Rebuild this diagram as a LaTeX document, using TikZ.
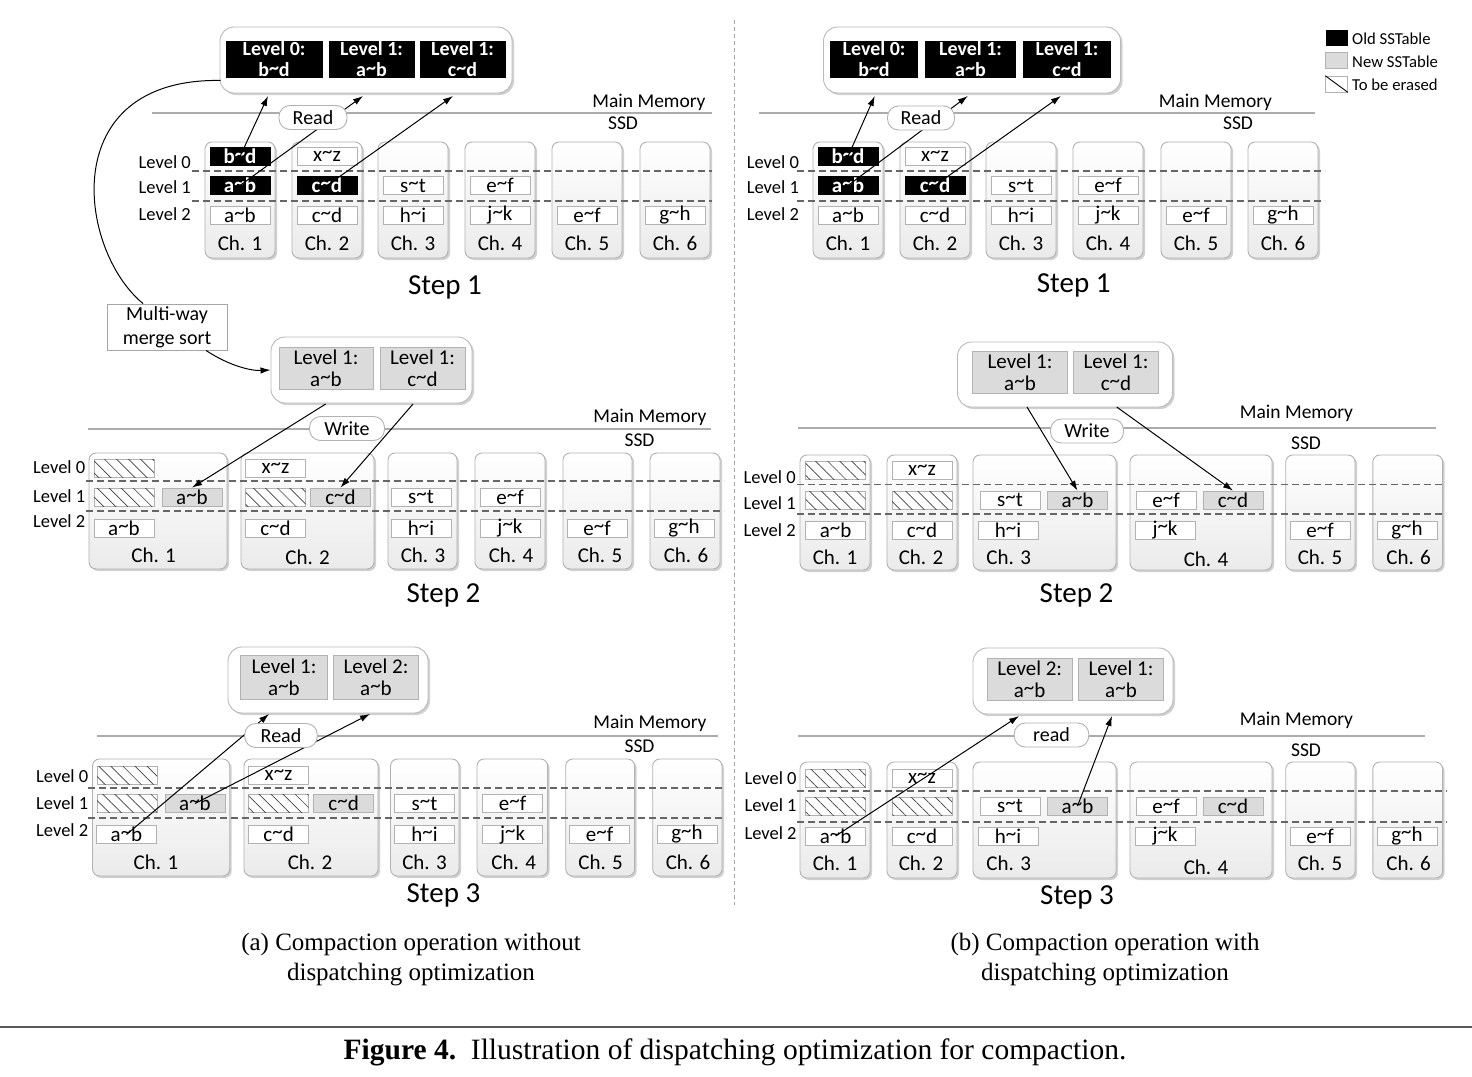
\documentclass[tikz,border=0pt]{standalone}
\usepackage{fontspec}
\setmainfont{Carlito}
\newfontfamily\capfont{Liberation Serif}
\usetikzlibrary{arrows.meta,shadows,patterns.meta,calc}
\newcommand\fz[1]{\fontsize{#1}{#1}\selectfont}
\newcommand\tl{\raisebox{0.14em}{\textasciitilde}}
\newcommand\tb[5][]{\node[sst,#1] (#2) at (#3,#4) {#5};}
\newcommand\chb[5]{\node[chan,minimum width={#3-#2},minimum height={#5-#4}] (#1) at ({(#2+#3)/2},{(#4+#5)/2}) {};}
\tikzset{
 shad/.style={drop shadow={shadow xshift=2pt,shadow yshift=-2pt,opacity=0.3,fill=black!60}},
 chan/.style={draw=gray!60,line width=0.9pt,rounded corners=7pt,top color=white,bottom color=gray!16,inner sep=0pt,shad},
 memb/.style={draw=gray!55,line width=0.9pt,rounded corners=14pt,fill=white,inner sep=0pt,shad},
 sst/.style={draw=gray!60,line width=0.8pt,fill=white,minimum width=60pt,minimum height=18pt,inner sep=0pt,font=\fz{21}},
 oldt/.style={fill=black,draw=black,text=white,font=\fz{21}\bfseries},
 newt/.style={fill=gray!28},
 erat/.style={postaction={pattern={Lines[angle=-45,distance=8.5pt,line width=0.7pt]},pattern color=black!75}},
 mold/.style={fill=black,text=white,inner sep=0pt,align=center,font=\fontsize{20}{21}\selectfont\bfseries},
 mnew/.style={fill=gray!28,draw=gray!60,line width=0.8pt,inner sep=0pt,align=center,font=\fontsize{21}{22}\selectfont},
 lbl/.style={inner sep=0pt,font=\fz{18.5}},
 mml/.style={inner sep=0pt,font=\fz{19.5}},
 chl/.style={inner sep=0pt,font=\fz{21}},
 stp/.style={inner sep=0pt,font=\fz{29}},
 rw/.style={draw=gray!60,line width=0.9pt,fill=white,rounded corners=11pt,minimum height=24pt,inner sep=0pt,font=\fz{20}},
 sepl/.style={draw=gray!65,line width=1.1pt},
 dsh/.style={draw=black!60,line width=1.1pt,dash pattern=on 7pt off 4pt},
 arr/.style={-{Latex[length=10pt,width=6.5pt]},line width=1pt},
 conn/.style={line width=1pt},
 capt/.style={inner sep=0pt,font=\capfont\fz{25}},
}
\begin{document}
\begin{tikzpicture}[x=1pt,y=-1pt]
\fill[white] (0,0) rectangle (1472,1076);
\useasboundingbox (0,0) rectangle (1472,1076);

% divider
\draw[gray!70,line width=0.8pt,dash pattern=on 4pt off 3pt] (734,20) -- (734,905);

%%%%%%%%%%%%%%%% (a) Step 1
\chb{a1c1}{205}{275}{142}{258}
\chb{a1c2}{292}{362}{142}{258}
\chb{a1c3}{378}{448}{142}{258}
\chb{a1c4}{465}{535}{142}{258}
\chb{a1c5}{552}{622}{142}{258}
\chb{a1c6}{640}{710}{142}{258}
\draw[dsh] (192,171) -- (712,171);
\draw[dsh] (192,201) -- (712,201);
\node[lbl,anchor=east] (a1v0) at (191,162) {Level 0};
\node[lbl,anchor=east] (a1v1) at (191,187) {Level 1};
\node[lbl,anchor=east] (a1v2) at (191,214) {Level 2};
\tb[oldt]{a1t10}{240}{156.5}{b\tl d}
\tb[oldt]{a1t11}{240}{185.5}{a\tl b}
\tb{a1t12}{240}{215.5}{a\tl b}
\tb{a1t20}{327}{156.5}{x\tl z}
\tb[oldt]{a1t21}{327}{185.5}{c\tl d}
\tb{a1t22}{327}{215.5}{c\tl d}
\tb{a1t31}{413}{185.5}{s\tl t}
\tb{a1t32}{413}{215.5}{h\tl i}
\tb{a1t41}{500}{185.5}{e\tl f}
\tb{a1t42}{500}{215.5}{j\tl k}
\tb{a1t52}{587}{215.5}{e\tl f}
\tb{a1t62}{675}{215.5}{g\tl h}
\node[chl] (a1l1) at (240,243) {Ch. 1};
\node[chl] (a1l2) at (327,243) {Ch. 2};
\node[chl] (a1l3) at (413,243) {Ch. 3};
\node[chl] (a1l4) at (500,243) {Ch. 4};
\node[chl] (a1l5) at (587,243) {Ch. 5};
\node[chl] (a1l6) at (675,243) {Ch. 6};
\draw[sepl] (152,113) -- (712,113);
\node[mml] (a1mm) at (649,102) {Main Memory};
\node[mml] (a1ssd) at (623,123) {SSD};
\node[memb,minimum width=292,minimum height=66] (a1mem) at (366,60) {};
\node[mold,minimum width=97,minimum height=37] (a1m1) at (274,59.5) {Level 0:\\b\tl d};
\node[mold,minimum width=86,minimum height=37] (a1m2) at (371.5,59.5) {Level 1:\\a\tl b};
\node[mold,minimum width=86,minimum height=37] (a1m3) at (462.5,59.5) {Level 1:\\c\tl d};
\coordinate (a1p1) at (268,96);
\coordinate (a1p2) at (363,96);
\coordinate (a1p3) at (453,96);
\draw[arr] (a1t10.center) -- (a1p1);
\draw[arr] (a1t11.center) -- (a1p2);
\draw[arr] (a1t21.center) -- (a1p3);
\node[rw,minimum width=68] (a1rd) at (313,117.5) {Read};
\node[stp] (a1st) at (445,287) {Step 1};

% multi-way merge sort
\node[draw=gray!70,line width=0.9pt,fill=white,minimum width=120,minimum height=46,inner sep=0pt,align=center,font=\fontsize{20}{24}\selectfont] (mw) at (167,327) {Multi-way\\merge sort};
\draw[conn] ($(a1mem.south west)+(1,-13)$) .. controls (55,78) and (78,250) .. ($(mw.north)+(-24,0)$);

%%%%%%%%%%%%%%%% (a) Step 2
\chb{a2c1}{89}{227}{453}{569}
\chb{a2c2}{241}{374}{453}{569}
\chb{a2c3}{388}{457}{453}{569}
\chb{a2c4}{475}{545}{453}{569}
\chb{a2c5}{563}{632}{453}{569}
\chb{a2c6}{650}{720}{453}{569}
\draw[dsh] (86,481) -- (724,481);
\draw[dsh] (86,511) -- (724,511);
\node[lbl,anchor=west] (a2v0) at (33,467) {Level 0};
\node[lbl,anchor=west] (a2v1) at (33,496) {Level 1};
\node[lbl,anchor=west] (a2v2) at (33,521) {Level 2};
\tb[erat]{a2t10}{124}{468}{}
\tb[erat]{a2t11}{124}{497}{}
\tb[newt]{a2n1}{192}{497}{a\tl b}
\tb{a2t12}{124}{528}{a\tl b}
\tb{a2t20}{275.5}{468}{x\tl z}
\tb[erat]{a2t21}{275.5}{497}{}
\tb[newt]{a2n2}{340.5}{497}{c\tl d}
\tb{a2t22}{275.5}{528}{c\tl d}
\tb{a2t31}{421}{497}{s\tl t}
\tb{a2t32}{421}{528}{h\tl i}
\tb{a2t41}{510}{497}{e\tl f}
\tb{a2t42}{510}{528}{j\tl k}
\tb{a2t52}{597}{528}{e\tl f}
\tb{a2t62}{684}{528}{g\tl h}
\node[chl] (a2l1) at (153.6,555) {Ch. 1};
\node[chl] (a2l2) at (307.6,557) {Ch. 2};
\node[chl] (a2l3) at (423,555) {Ch. 3};
\node[chl] (a2l4) at (511,555) {Ch. 4};
\node[chl] (a2l5) at (600,555) {Ch. 5};
\node[chl] (a2l6) at (686,555) {Ch. 6};
\draw[sepl] (88,429) -- (711,429);
\node[mml] (a2mm) at (650,417) {Main Memory};
\node[mml] (a2ssd) at (639.5,440) {SSD};
\node[memb,minimum width=201,minimum height=66] (a2mem) at (371.5,370) {};
\node[mnew,minimum width=94,minimum height=42] (a2m1) at (326,368) {Level 1:\\a\tl b};
\node[mnew,minimum width=85,minimum height=42] (a2m2) at (422.5,368) {Level 1:\\c\tl d};
\coordinate (a2q1) at (325.7,404);
\coordinate (a2q2) at (413,404);
\draw[arr] (a2q1) -- (a2n1.north);
\draw[arr] (a2q2) -- (a2n2.north);
\node[rw,minimum width=75] (a2wr) at (347,428.5) {Write};
\node[stp] (a2st) at (443.5,595) {Step 2};
\draw[arr] ($(mw.south)+(39,0)$) .. controls (228,365) and (250,371) .. (a2mem.west);

%%%%%%%%%%%%%%%% (a) Step 3
\chb{a3c1}{92.5}{229.7}{759}{876}
\chb{a3c2}{244}{378}{759}{876}
\chb{a3c3}{390.5}{459}{759}{876}
\chb{a3c4}{477}{547.6}{759}{876}
\chb{a3c5}{565.7}{634.6}{759}{876}
\chb{a3c6}{652.7}{722}{759}{876}
\draw[dsh] (88,788) -- (724,788);
\draw[dsh] (88,818) -- (724,818);
\node[lbl,anchor=west] (a3v0) at (36,776) {Level 0};
\node[lbl,anchor=west] (a3v1) at (36,803) {Level 1};
\node[lbl,anchor=west] (a3v2) at (36,830) {Level 2};
\tb[erat]{a3t10}{127}{775}{}
\tb[erat]{a3t11}{127}{803.5}{}
\tb[newt]{a3n1}{195}{803.5}{a\tl b}
\tb{a3t12}{126.5}{834.5}{a\tl b}
\tb{a3t20}{278.6}{775}{x\tl z}
\tb[erat]{a3t21}{278.6}{803.5}{}
\tb[newt]{a3n2}{343.6}{803.5}{c\tl d}
\tb{a3t22}{278.6}{834.5}{c\tl d}
\tb{a3t31}{424.5}{803.5}{s\tl t}
\tb{a3t32}{424.5}{834.5}{h\tl i}
\tb{a3t41}{512.6}{803.5}{e\tl f}
\tb{a3t42}{512.6}{834.5}{j\tl k}
\tb{a3t52}{599.6}{834.5}{e\tl f}
\tb{a3t62}{687}{834.5}{g\tl h}
\node[chl] (a3l1) at (156,862) {Ch. 1};
\node[chl] (a3l2) at (310,862) {Ch. 2};
\node[chl] (a3l3) at (424.5,862) {Ch. 3};
\node[chl] (a3l4) at (513.7,862) {Ch. 4};
\node[chl] (a3l5) at (600.6,862) {Ch. 5};
\node[chl] (a3l6) at (688,862) {Ch. 6};
\draw[sepl] (97,736) -- (718,736);
\node[mml] (a3mm) at (650,723) {Main Memory};
\node[mml] (a3ssd) at (639.5,746) {SSD};
\node[memb,minimum width=200,minimum height=66] (a3mem) at (328,680) {};
\node[mnew,minimum width=86.5,minimum height=44] (a3m1) at (284,677) {Level 1:\\a\tl b};
\node[mnew,minimum width=84.7,minimum height=44] (a3m2) at (376,677) {Level 2:\\a\tl b};
\coordinate (a3p1) at (269,714);
\coordinate (a3p2) at (370,714);
\draw[arr] (a3t12.center) -- (a3p1);
\draw[arr] (a3n1.center) -- (a3p2);
\node[rw,minimum width=72.5] (a3rd) at (281,735.5) {Read};
\node[stp] (a3st) at (443.5,895) {Step 3};

%%%%%%%%%%%%%%%% (b) Step 1
\chb{b1c1}{813}{883}{142}{258}
\chb{b1c2}{900}{970}{142}{258}
\chb{b1c3}{986}{1056}{142}{258}
\chb{b1c4}{1073}{1143}{142}{258}
\chb{b1c5}{1161}{1231}{142}{258}
\chb{b1c6}{1248}{1318}{142}{258}
\draw[dsh] (797,171) -- (1325,171);
\draw[dsh] (797,201) -- (1325,201);
\node[lbl,anchor=west] (b1v0) at (746.6,162) {Level 0};
\node[lbl,anchor=west] (b1v1) at (746.6,187) {Level 1};
\node[lbl,anchor=west] (b1v2) at (746.6,214) {Level 2};
\tb[oldt]{b1t10}{848}{156.5}{b\tl d}
\tb[oldt]{b1t11}{848}{185.5}{a\tl b}
\tb{b1t12}{848}{215.5}{a\tl b}
\tb{b1t20}{935}{156.5}{x\tl z}
\tb[oldt]{b1t21}{935}{185.5}{c\tl d}
\tb{b1t22}{935}{215.5}{c\tl d}
\tb{b1t31}{1021}{185.5}{s\tl t}
\tb{b1t32}{1021}{215.5}{h\tl i}
\tb{b1t41}{1108}{185.5}{e\tl f}
\tb{b1t42}{1108}{215.5}{j\tl k}
\tb{b1t52}{1196}{215.5}{e\tl f}
\tb{b1t62}{1283}{215.5}{g\tl h}
\node[chl] (b1l1) at (848,243) {Ch. 1};
\node[chl] (b1l2) at (935,243) {Ch. 2};
\node[chl] (b1l3) at (1021,243) {Ch. 3};
\node[chl] (b1l4) at (1108,243) {Ch. 4};
\node[chl] (b1l5) at (1196,243) {Ch. 5};
\node[chl] (b1l6) at (1283,243) {Ch. 6};
\draw[sepl] (759,113) -- (1315,113);
\node[mml] (b1mm) at (1215.5,102) {Main Memory};
\node[mml] (b1ssd) at (1238,123) {SSD};
\node[memb,minimum width=297,minimum height=66] (b1mem) at (972,60) {};
\node[mold,minimum width=88,minimum height=37] (b1m1) at (874,59.5) {Level 0:\\b\tl d};
\node[mold,minimum width=91,minimum height=37] (b1m2) at (970.5,59.5) {Level 1:\\a\tl b};
\node[mold,minimum width=88,minimum height=37] (b1m3) at (1067,59.5) {Level 1:\\c\tl d};
\coordinate (b1p1) at (874.7,96);
\coordinate (b1p2) at (967.8,96);
\coordinate (b1p3) at (1060.9,96);
\draw[arr] (b1t10.center) -- (b1p1);
\draw[arr] (b1t11.center) -- (b1p2);
\draw[arr] (b1t21.center) -- (b1p3);
\node[rw,minimum width=67] (b1rd) at (921,118) {Read};
\node[stp] (b1st) at (1073.7,285) {Step 1};

% legend
\node[fill=black,minimum width=22,minimum height=16,inner sep=0pt] (lgold) at (1336.5,38.3) {};
\node[fill=gray!28,draw=gray!60,line width=0.7pt,minimum width=22,minimum height=16,inner sep=0pt] (lgnew) at (1336.5,60.5) {};
\node[fill=white,draw=gray!60,line width=0.7pt,minimum width=22,minimum height=16,inner sep=0pt] (lger) at (1336.5,84) {};
\draw[line width=0.9pt] (lger.north west) -- (lger.south east);
\node[inner sep=0pt,anchor=west,font=\fz{16.7}] (lgt1) at (1352,39) {Old SSTable};
\node[inner sep=0pt,anchor=west,font=\fz{16.7}] (lgt2) at (1352,62) {New SSTable};
\node[inner sep=0pt,anchor=west,font=\fz{16.7}] (lgt3) at (1352,85) {To be erased};

%%%%%%%%%%%%%%%% (b) Step 2
\chb{b2c1}{800}{870}{455}{570}
\chb{b2c2}{887}{957}{455}{570}
\chb{b2c3}{973}{1116}{455}{570}
\chb{b2c4}{1130}{1272}{455}{570}
\chb{b2c5}{1285.7}{1355}{455}{570}
\chb{b2c6}{1372.8}{1442.6}{455}{570}
\draw[dsh] (797,484.5) -- (1445,484.5);
\draw[dsh] (797,514) -- (1445,514);
\node[lbl,anchor=west] (b2v0) at (743.4,477) {Level 0};
\node[lbl,anchor=west] (b2v1) at (743.4,503) {Level 1};
\node[lbl,anchor=west] (b2v2) at (743.4,530) {Level 2};
\tb[erat]{b2t10}{835.6}{470}{}
\tb[erat]{b2t11}{835.6}{500}{}
\tb{b2t12}{835.6}{530}{a\tl b}
\tb{b2t20}{922}{470}{x\tl z}
\tb[erat]{b2t21}{922}{500}{}
\tb{b2t22}{922}{530}{c\tl d}
\tb{b2t31}{1010}{500}{s\tl t}
\tb[newt]{b2n1}{1077.5}{500}{a\tl b}
\tb{b2t32}{1008}{530}{h\tl i}
\tb{b2t41}{1166}{500}{e\tl f}
\tb[newt]{b2n2}{1233}{500}{c\tl d}
\tb{b2t42}{1165}{530}{j\tl k}
\tb{b2t52}{1320}{530}{e\tl f}
\tb{b2t62}{1407}{530}{g\tl h}
\node[chl] (b2l1) at (835,557) {Ch. 1};
\node[chl] (b2l2) at (921,557) {Ch. 2};
\node[chl] (b2l3) at (1008.7,557) {Ch. 3};
\node[chl] (b2l4) at (1206,559) {Ch. 4};
\node[chl] (b2l5) at (1320,557) {Ch. 5};
\node[chl] (b2l6) at (1408.6,557) {Ch. 6};
\draw[sepl] (798,428) -- (1436,428);
\node[mml] (b2mm) at (1296.5,413) {Main Memory};
\node[mml] (b2ssd) at (1306,443) {SSD};
\node[memb,minimum width=215,minimum height=65] (b2mem) at (1065,374.5) {};
\node[mnew,minimum width=95.5,minimum height=42] (b2m1) at (1020,372) {Level 1:\\a\tl b};
\node[mnew,minimum width=85,minimum height=42] (b2m2) at (1116,372) {Level 1:\\c\tl d};
\coordinate (b2q1) at (1027,407);
\coordinate (b2q2) at (1116.7,407);
\draw[arr] (b2q1) -- (b2n1.north);
\draw[arr] (b2q2) -- (b2n2.north);
\node[rw,minimum width=73] (b2wr) at (1087,431) {Write};
\node[stp] (b2st) at (1076.5,595) {Step 2};

%%%%%%%%%%%%%%%% (b) Step 3
\chb{b3c1}{800}{870}{762}{878}
\chb{b3c2}{887}{957}{762}{878}
\chb{b3c3}{973}{1116}{762}{878}
\chb{b3c4}{1130}{1272}{762}{878}
\chb{b3c5}{1285.7}{1355}{762}{878}
\chb{b3c6}{1372.8}{1442.6}{762}{878}
\draw[dsh] (797,791) -- (1447,791);
\draw[dsh] (797,822) -- (1447,822);
\node[lbl,anchor=west] (b3v0) at (744.3,778) {Level 0};
\node[lbl,anchor=west] (b3v1) at (744.3,805) {Level 1};
\node[lbl,anchor=west] (b3v2) at (744.3,833) {Level 2};
\tb[erat]{b3t10}{835.6}{778}{}
\tb[erat]{b3t11}{835.6}{806}{}
\tb{b3t12}{835.6}{836}{a\tl b}
\tb{b3t20}{922}{778}{x\tl z}
\tb[erat]{b3t21}{922}{806}{}
\tb{b3t22}{922}{836}{c\tl d}
\tb{b3t31}{1010}{806}{s\tl t}
\tb[newt]{b3n1}{1077.5}{806}{a\tl b}
\tb{b3t32}{1008}{836}{h\tl i}
\tb{b3t41}{1166}{806}{e\tl f}
\tb[newt]{b3n2}{1233}{806}{c\tl d}
\tb{b3t42}{1165}{836}{j\tl k}
\tb{b3t52}{1320}{836}{e\tl f}
\tb{b3t62}{1407}{836}{g\tl h}
\node[chl] (b3l1) at (835,863) {Ch. 1};
\node[chl] (b3l2) at (921,863) {Ch. 2};
\node[chl] (b3l3) at (1008.7,863) {Ch. 3};
\node[chl] (b3l4) at (1206,867) {Ch. 4};
\node[chl] (b3l5) at (1320,863) {Ch. 5};
\node[chl] (b3l6) at (1408.6,863) {Ch. 6};
\draw[sepl] (798,736) -- (1425,736);
\node[mml] (b3mm) at (1296.5,720) {Main Memory};
\node[mml] (b3ssd) at (1306,750) {SSD};
\node[memb,minimum width=200,minimum height=66] (b3mem) at (1073,681) {};
\node[mnew,minimum width=85.6,minimum height=42] (b3m1) at (1029.7,679) {Level 2:\\a\tl b};
\node[mnew,minimum width=84.7,minimum height=42] (b3m2) at (1121,679) {Level 1:\\a\tl b};
\coordinate (b3p1) at (1019,716);
\coordinate (b3p2) at (1112,716);
\draw[arr] (b3t12.center) -- (b3p1);
\draw[arr] (b3n1.center) -- (b3p2);
\node[rw,minimum width=74.5] (b3rd) at (1051.5,735) {read};
\node[stp] (b3st) at (1077,897) {Step 3};

%%%%%%%%%%%%%%%% captions
\node[capt,align=center,font=\capfont\fontsize{25}{30}\selectfont] (capa) at (411,959.5) {(a) Compaction operation without\\dispatching optimization};
\node[capt,align=center,font=\capfont\fontsize{25}{30}\selectfont] (capb) at (1105,959.5) {(b) Compaction operation with\\dispatching optimization};
\draw[gray!70!black,line width=2.2pt] (0,1027) -- (1472,1027);
\node[capt,font=\capfont\fz{29.5}] (figcap) at (735,1052) {\textbf{Figure 4.}\ \ Illustration of dispatching optimization for compaction.};
\end{tikzpicture}
\end{document}
